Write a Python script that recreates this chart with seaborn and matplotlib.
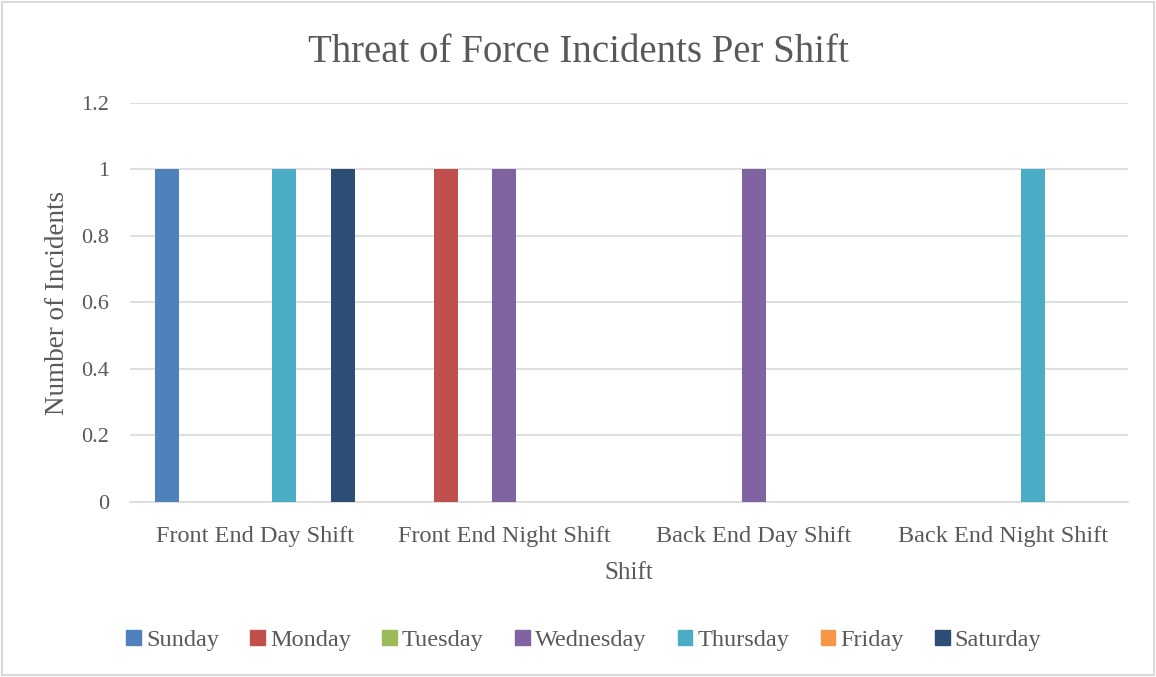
import matplotlib
matplotlib.use("Agg")
import matplotlib.pyplot as plt
import matplotlib.patches as mpatches
import seaborn as sns
import pandas as pd

# data
shifts = ["Front End Day Shift", "Front End Night Shift", "Back End Day Shift", "Back End Night Shift"]
days = ["Sunday", "Monday", "Tuesday", "Wednesday", "Thursday", "Friday", "Saturday"]
day_colors = ["#4F81BD", "#C0504D", "#9BBB59", "#8064A2", "#4BACC6", "#F79646", "#2C4D75"]
# incidents per shift, one list per day
sunday = [1, 0, 0, 0]
monday = [0, 1, 0, 0]
tuesday = [0, 0, 0, 0]
wednesday = [0, 1, 1, 0]
thursday = [1, 0, 0, 1]
friday = [0, 0, 0, 0]
saturday = [1, 0, 0, 0]
yticks = [0, 0.2, 0.4, 0.6, 0.8, 1, 1.2]
ytick_labels = ["0", "0.2", "0.4", "0.6", "0.8", "1", "1.2"]

series = [sunday, monday, tuesday, wednesday, thursday, friday, saturday]
rows = []
for d, vals in zip(days, series):
    for s, v in zip(shifts, vals):
        rows.append({"Shift": s, "Day": d, "Incidents": v})
df = pd.DataFrame(rows)

sns.set_style("white")
plt.rcParams['font.family'] = ['Liberation Serif', 'DejaVu Serif']
txt = "#595959"
grid = "#D9D9D9"

fig = plt.figure(figsize=(11.56, 6.77), dpi=100)
ax = fig.add_axes([0.1125, 0.2585, 0.8635, 0.5895])

sns.barplot(data=df, x="Shift", y="Incidents", hue="Day", order=shifts, hue_order=days,
            palette=day_colors, width=0.82, gap=0.18, linewidth=0, saturation=1,
            errorbar=None, legend=False, ax=ax, zorder=3)

ax.set_xlim(-0.5, 3.5)
ax.set_ylim(0, 1.2)
ax.set_yticks(yticks)
ax.set_yticklabels(ytick_labels)
ax.yaxis.grid(True, color=grid, linewidth=1.2, zorder=0)
ax.set_axisbelow(True)
for side in ["top", "right", "left"]:
    ax.spines[side].set_visible(False)
ax.spines["bottom"].set_color(grid)
ax.spines["bottom"].set_linewidth(1.2)
ax.tick_params(axis="y", length=0, labelsize=16, colors=txt, pad=15)
ax.tick_params(axis="x", length=0, labelsize=17.5, colors=txt, pad=17)

ax.set_xlabel("Shift", fontsize=18, color=txt, labelpad=11)
ax.set_ylabel("Number of Incidents", fontsize=19.5, color=txt, labelpad=8)
fig.text(0.5, 0.922, "Threat of Force Incidents Per Shift", ha="center", va="center",
         fontsize=28, color=txt)

handles = [mpatches.Patch(color=c, label=d) for d, c in zip(days, day_colors)]
leg = fig.legend(handles=handles, loc="center", bbox_to_anchor=(0.505, 0.054), ncol=7,
                 frameon=False, fontsize=17.5, handlelength=0.6, handleheight=0.6,
                 handletextpad=0.2, columnspacing=1.3)
for t in leg.get_texts():
    t.set_color(txt)

# chart border
fig.patches.append(mpatches.Rectangle((0.002, 0.003), 0.996, 0.994, transform=fig.transFigure,
                                      fill=False, edgecolor=grid, linewidth=1.5))

fig.savefig("out.png", dpi=100, facecolor="white")
